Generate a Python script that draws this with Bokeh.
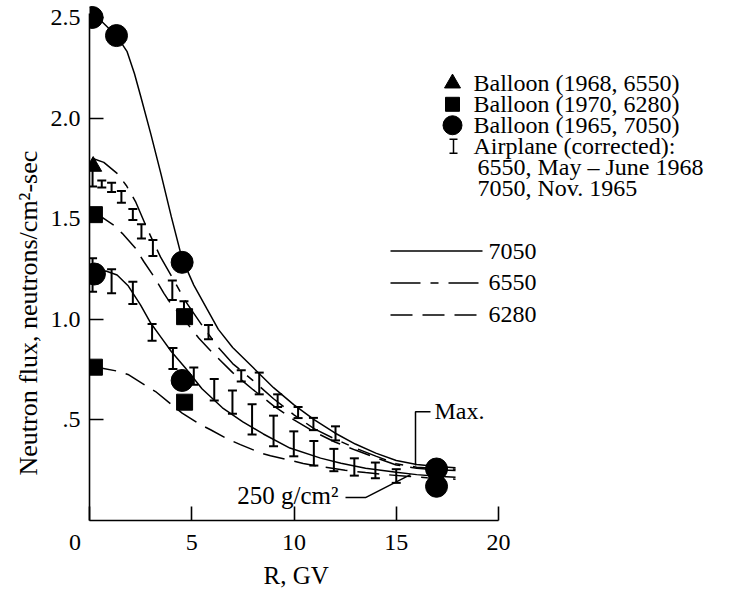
import math
from bokeh.plotting import figure
from bokeh.models import FixedTicker, Label, Whisker, ColumnDataSource, TeeHead, Range1d, Title
from bokeh.embed import file_html
from bokeh.resources import INLINE

FONT = "Liberation Serif"
FS = "24px"

# ---------------- data ----------------
# Balloon measurements
tri_R = [0.18]
tri_F = [1.76]
sq_R = [0.24, 0.24, 4.65, 4.65]
sq_F = [1.52, 0.762, 1.013, 0.588]
circ_R = [0.13, 1.32, 4.53, 0.24, 4.53, 16.97, 16.97]
circ_F = [2.50, 2.41, 1.283, 1.225, 0.696, 0.256, 0.170]

# Airplane (corrected) 6550, May-June 1968
air1_R = [0.15, 0.6, 1.08, 1.56, 2.12, 2.54, 3.1, 4.05, 4.62, 5.82, 7.42, 8.3, 9.2, 10.2, 10.95, 12.03]
air1_lo = [1.66, 1.655, 1.633, 1.579, 1.493, 1.402, 1.314, 1.096, 1.02, 0.901, 0.691, 0.627, 0.564, 0.509, 0.449, 0.398]
air1_hi = [1.76, 1.69, 1.678, 1.637, 1.548, 1.472, 1.394, 1.193, 1.09, 0.972, 0.747, 0.735, 0.627, 0.564, 0.510, 0.468]
# Airplane (corrected) 7050, Nov. 1965
air2_R = [0.15, 1.08, 2.12, 3.06, 4.08, 5.1, 6.1, 6.99, 7.95, 9.0, 9.99, 10.97, 11.95, 12.95, 13.98, 15.0]
air2_lo = [1.137, 1.13, 1.076, 0.893, 0.753, 0.675, 0.597, 0.531, 0.427, 0.369, 0.319, 0.273, 0.245, 0.223, 0.21, 0.187]
air2_hi = [1.303, 1.249, 1.187, 0.977, 0.857, 0.76, 0.703, 0.646, 0.578, 0.521, 0.443, 0.395, 0.356, 0.309, 0.288, 0.255]

# Curves
c7050max_R = [0.13, 0.6, 1.0, 1.32, 1.84, 2.2, 2.5, 3.0, 3.5, 4.0, 4.53, 5.1, 5.75, 6.3, 7.0, 8.0, 9.0, 10.0, 11.0, 12.0, 13.0, 14.0, 15.0, 16.0, 17.0, 17.9]
c7050max_F = [2.50, 2.48, 2.44, 2.41, 2.33, 2.22, 2.11, 1.92, 1.72, 1.51, 1.30, 1.17, 1.05, 0.95, 0.86, 0.76, 0.66, 0.575, 0.50, 0.435, 0.38, 0.335, 0.298, 0.278, 0.268, 0.262]
c6550max_R = [0.13, 0.7, 1.35, 1.8, 2.25, 2.82, 3.47, 4.2, 4.69, 5.5, 6.3, 7.0, 8.0, 9.0, 10.0, 11.0, 12.0, 13.0, 14.0, 15.0, 16.0, 17.0, 17.9]
c6550max_F = [1.80, 1.78, 1.725, 1.665, 1.585, 1.45, 1.31, 1.18, 1.09, 0.97, 0.86, 0.78, 0.695, 0.605, 0.525, 0.455, 0.405, 0.36, 0.32, 0.282, 0.265, 0.258, 0.255]
c6280max_R = [0.24, 0.62, 1.19, 1.6, 2.25, 2.66, 3.15, 3.64, 3.96, 4.69, 5.35, 6.0, 7.0, 8.0, 9.0, 10.0, 11.0, 12.0, 13.0, 14.0, 15.0, 16.0, 17.0, 17.9]
c6280max_F = [1.52, 1.506, 1.468, 1.427, 1.353, 1.286, 1.212, 1.129, 1.08, 0.99, 0.906, 0.835, 0.735, 0.65, 0.57, 0.50, 0.44, 0.39, 0.35, 0.312, 0.276, 0.26, 0.252, 0.248]
c7050low_R = [0.24, 0.8, 1.35, 1.9, 2.5, 3.0, 3.5, 4.0, 4.7, 5.5, 6.5, 7.5, 8.5, 9.8, 11.3, 12.3, 13.5, 15.0, 16.0, 17.0, 17.9]
c7050low_F = [1.225, 1.24, 1.22, 1.165, 1.07, 0.98, 0.91, 0.84, 0.757, 0.655, 0.56, 0.49, 0.43, 0.36, 0.31, 0.285, 0.26, 0.24, 0.228, 0.22, 0.215]
c6280low_R = [0.24, 0.62, 1.43, 1.92, 2.82, 3.23, 4.12, 4.53, 5.43, 5.92, 6.81, 7.38, 8.36, 8.85, 9.83, 10.45, 11.46, 12.5, 13.5, 14.5, 15.5, 16.5, 17.9]
c6280low_F = [0.762, 0.757, 0.741, 0.724, 0.666, 0.641, 0.567, 0.534, 0.476, 0.451, 0.402, 0.377, 0.336, 0.322, 0.299, 0.283, 0.266, 0.25, 0.238, 0.228, 0.22, 0.213, 0.205]

x_ticks = [0, 5, 10, 15, 20]
x_tick_labels = ["0\u2007\u2007\u2009", "5", "10", "15", "20"]
y_ticks = [0.5, 1.0, 1.5, 2.0, 2.5]
y_tick_labels = [".5", "1.0", "1.5", "2.0", "2.5"]

x_title = "R, GV"
y_title = "Neutron flux, neutrons/cm\u00b2-sec"

legend_markers = ["Balloon (1968, 6550)", "Balloon (1970, 6280)", "Balloon (1965, 7050)",
                  "Airplane (corrected):", "6550, May \u2013 June 1968", "7050, Nov. 1965"]
legend_lines = ["7050", "6550", "6280"]

DASH_6550 = "30 10 8 10"
DASH_6280 = "22 10"

# ---------------- figure ----------------
p = figure(width=733, height=590, output_backend="svg", toolbar_location=None,
           x_range=Range1d(0, 644 / 20.45), y_range=Range1d(0, 521 / 201.6),
           min_border_left=89, min_border_right=0, min_border_top=0, min_border_bottom=69)
p.xgrid.visible = False
p.ygrid.visible = False
p.outline_line_color = None
p.background_fill_color = "white"
p.border_fill_color = "white"

for ax in (p.xaxis[0], p.yaxis[0]):
    ax.major_tick_in = 14
    ax.major_tick_out = 0
    ax.minor_tick_in = 0
    ax.minor_tick_out = 0
    ax.axis_line_width = 1.6
    ax.major_tick_line_width = 1.6
    ax.axis_line_color = "black"
    ax.major_tick_line_color = "black"
    ax.major_label_text_font = FONT
    ax.major_label_text_font_size = FS
    ax.major_label_text_color = "black"

p.xaxis.bounds = (0, 20)
p.xaxis.ticker = FixedTicker(ticks=x_ticks)
p.xaxis.major_label_overrides = {t: s for t, s in zip(x_ticks, x_tick_labels)}
p.xaxis.major_label_standoff = 8

p.yaxis.bounds = (0, 2.52)
p.yaxis.ticker = FixedTicker(ticks=y_ticks)
p.yaxis.major_label_overrides = {t: s for t, s in zip(y_ticks, y_tick_labels)}
p.yaxis.major_label_standoff = 9

# axis titles placed as side titles so they can be offset like the reference
p.add_layout(Title(text=x_title, align="left", offset=174, standoff=4,
                   text_font=FONT, text_font_size="25px", text_font_style="normal",
                   text_color="black"), "below")
p.add_layout(Title(text=y_title, align="left", offset=45, standoff=9,
                   text_font=FONT, text_font_size="26px", text_font_style="normal",
                   text_color="black"), "left")

# ---------------- curves ----------------
LW = 1.5
p.line(c7050max_R, c7050max_F, line_color="black", line_width=LW)
p.line(c6550max_R, c6550max_F, line_color="black", line_width=LW, line_dash=DASH_6550)
p.line(c6280max_R, c6280max_F, line_color="black", line_width=LW, line_dash=DASH_6280)
p.line(c7050low_R, c7050low_F, line_color="black", line_width=LW)
p.line(c6280low_R, c6280low_F, line_color="black", line_width=LW, line_dash=DASH_6280)

# ---------------- airplane error bars ----------------
for R, lo, hi in ((air1_R, air1_lo, air1_hi), (air2_R, air2_lo, air2_hi)):
    src = ColumnDataSource(dict(x=R, lo=lo, hi=hi))
    w = Whisker(source=src, base="x", lower="lo", upper="hi", dimension="height",
                line_color="black", line_width=2,
                upper_head=TeeHead(size=9, line_color="black", line_width=2),
                lower_head=TeeHead(size=9, line_color="black", line_width=2))
    p.add_layout(w)

# ---------------- balloon markers ----------------
p.scatter(tri_R, tri_F, marker="triangle", size=17, fill_color="black", line_color="black")
p.scatter(sq_R, sq_F, marker="square", size=16, fill_color="black", line_color="black")
p.scatter(circ_R, circ_F, marker="circle", size=22, fill_color="black", line_color="black")

# ---------------- legend (drawn) ----------------
def px_to_x(px):
    return (px - 89) / 20.45

def py_to_y(py):
    return (521 - py) / 201.6

mk_x = px_to_x(452)
rows_y = [py_to_y(v) for v in (83, 104, 125, 146, 167, 188)]
p.scatter([mk_x], [rows_y[0]], marker="triangle", size=16, fill_color="black", line_color="black")
p.scatter([mk_x], [rows_y[1]], marker="square", size=14, fill_color="black", line_color="black")
p.scatter([mk_x], [rows_y[2]], marker="circle", size=19, fill_color="black", line_color="black")
# small "I" symbol
ix = px_to_x(453)
hw = 4 / 20.45
y_top, y_bot = py_to_y(139), py_to_y(153)
p.segment([ix, ix - hw, ix - hw], [y_bot, y_top, y_bot], [ix, ix + hw, ix + hw], [y_top, y_top, y_bot],
          line_color="black", line_width=1.5)

for i, txt in enumerate(legend_markers):
    xx = px_to_x(473) if i < 4 else px_to_x(477)
    p.add_layout(Label(x=xx, y=rows_y[i], text=txt, text_font=FONT, text_font_size=FS,
                       text_baseline="middle", text_align="left", text_color="black"))

line_rows = [py_to_y(v) for v in (251, 283, 315)]
dashes = ["solid", DASH_6550, DASH_6280]
for txt, yy, dsh in zip(legend_lines, line_rows, dashes):
    p.line([px_to_x(390), px_to_x(482)], [yy, yy], line_color="black", line_width=LW, line_dash=dsh)
    p.add_layout(Label(x=px_to_x(488), y=yy, text=txt, text_font=FONT, text_font_size=FS,
                       text_baseline="middle", text_align="left", text_color="black"))

# ---------------- annotations ----------------
p.line([px_to_x(415), px_to_x(415), px_to_x(430)], [py_to_y(466), py_to_y(412), py_to_y(412)],
       line_color="black", line_width=1.5)
p.add_layout(Label(x=px_to_x(434), y=py_to_y(411), text="Max.", text_font=FONT, text_font_size=FS,
                   text_baseline="middle", text_align="left", text_color="black"))
p.line([px_to_x(345), px_to_x(365), px_to_x(410)], [py_to_y(498), py_to_y(498), py_to_y(475)],
       line_color="black", line_width=1.5)
p.add_layout(Label(x=px_to_x(338), y=py_to_y(496), text="250 g/cm\u00b2", text_font=FONT,
                   text_font_size="25px", text_baseline="middle", text_align="right", text_color="black"))

open("out.html", "w").write(file_html(p, INLINE))
